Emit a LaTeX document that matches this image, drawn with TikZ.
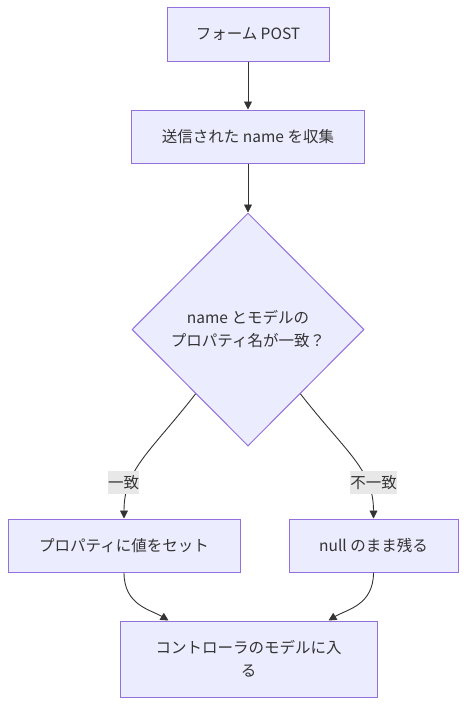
\documentclass[tikz,border=0pt]{standalone}
\usepackage{fontspec}
\setmainfont{Noto Sans CJK JP}
\usetikzlibrary{shapes.geometric,arrows.meta,calc}
\definecolor{nodefill}{HTML}{ECECFF}
\definecolor{nodeline}{HTML}{9370DB}
\definecolor{ink}{HTML}{333333}
\definecolor{lblfill}{HTML}{E8E8E8}
\begin{document}
\begin{tikzpicture}[x=1pt,y=-1pt,
  every node/.style={font=\fontsize{15.5}{23}\selectfont, text=ink},
  flowbox/.style={draw=nodeline, fill=nodefill, line width=1pt, inner sep=0pt, align=center},
  decision/.style={draw=nodeline, fill=nodefill, line width=1pt, diamond, inner sep=0pt, align=center},
  edgelbl/.style={fill=lblfill, inner xsep=0pt, inner ysep=0pt, minimum height=23pt},
  conn/.style={draw=ink, line width=0.9pt, -{Triangle[length=8pt,width=8pt]}}
]
\useasboundingbox (0,0) rectangle (474,718);
\node[flowbox, minimum width=162pt, minimum height=54pt] (a) at (248,34) {フォーム POST};
\node[flowbox, minimum width=233pt, minimum height=53pt] (b) at (248,136.5) {送信された name を収集};
\node[decision, minimum width=232pt, minimum height=233pt] (d) at (248,329.5) {name とモデルの\\プロパティ名が一致？};
\node[flowbox, minimum width=232pt, minimum height=53pt] (l) at (124,545.5) {プロパティに値をセット};
\node[flowbox, minimum width=169pt, minimum height=53pt] (r) at (373.5,545.5) {null のまま残る};
\node[flowbox, minimum width=257pt, minimum height=76pt] (e) at (248.5,659) {コントローラのモデルに入\\る};

\coordinate (dl) at ($(d.west)!0.55!(d.south)$);
\coordinate (dr) at ($(d.east)!0.55!(d.south)$);
\coordinate (el) at ($(e.north)+(-80,0)$);
\coordinate (er) at ($(e.north)+(80,0)$);

\draw[conn] (a.south) -- (b.north);
\draw[conn] (b.south) -- (d.north);
\draw[conn] (dl) .. controls ($(dl)+(-46,59)$) and ($(l.north)+(0,-49)$) .. (l.north);
\draw[conn] (dr) .. controls ($(dr)+(46,59)$) and ($(r.north)+(0,-49)$) .. (r.north);
\draw[conn] (l.south) .. controls ($(l.south)+(0,33)$) and ($(el)+(-18,-11)$) .. (el);
\draw[conn] (r.south) .. controls ($(r.south)+(0,33)$) and ($(er)+(18,-11)$) .. (er);

\node[edgelbl] (lbl1) at (123.5,482.5) {一致};
\node[edgelbl] (lbl2) at (373.5,482.5) {不一致};
\end{tikzpicture}
\end{document}
